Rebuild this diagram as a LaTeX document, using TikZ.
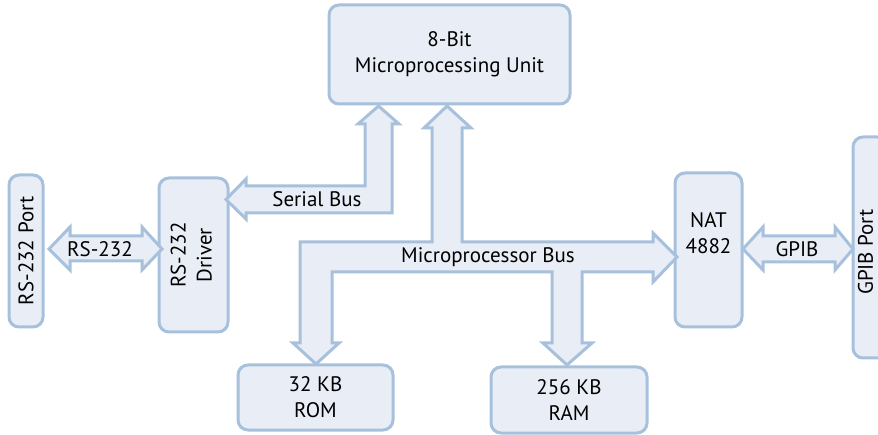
\documentclass[tikz,border=0pt]{standalone}
\usepackage{fontspec}
\setmainfont{PT Sans}
\definecolor{bstroke}{RGB}{167,193,221}
\definecolor{bfill}{RGB}{233,237,246}
\begin{document}
\begin{tikzpicture}[x=1pt,y=-1pt,
  blk/.style={draw=bstroke,fill=bfill,line width=3pt,rounded corners=10pt,inner sep=0pt,
    font=\fontsize{21}{26}\selectfont,align=center},
  bus/.style={draw=bstroke,fill=bfill,line width=3pt,line join=miter},
  lbl/.style={font=\fontsize{21}{26}\selectfont,text=black,inner sep=0pt,align=center}]
\useasboundingbox (0,0) rectangle (878,435);
\clip (0,0) rectangle (878,435);
% boxes
\node[blk,minimum width=241pt,minimum height=99pt] (mpu) at (449.5,54.5) {8-Bit\\Microprocessing Unit};
\node[blk,minimum width=34pt,minimum height=152pt] (port) at (26,251) {\rotatebox{90}{RS-232 Port}};
\node[blk,minimum width=69pt,minimum height=154pt] (drv) at (193.5,255)
  {\rotatebox{90}{\begin{tabular}{@{}c@{}}RS-232\\Driver\end{tabular}}};
\node[blk,minimum width=67pt,minimum height=154pt] (nat) at (708.5,250) {};
\node[lbl] (natl) at (708.5,233) {NAT\\4882};
\node[blk,minimum width=34pt,minimum height=221pt] (gport) at (870,247.5) {};
\node[lbl] (gportl) at (865.5,252) {\rotatebox{90}{GPIB Port}};
\node[blk,minimum width=155pt,minimum height=65pt] (rom) at (315.5,397.5) {32 KB\\ROM};
\node[blk,minimum width=156pt,minimum height=66pt] (ram) at (569,400) {256 KB\\RAM};
% serial bus
\draw[bus] (378.5,106) -- (399,124) -- (392,124) -- (392,213) -- (246,213) -- (246,219)
  -- (226,199.5) -- (246,179) -- (246,186) -- (365,186) -- (365,124) -- (358,124) -- cycle;
\node[lbl] (sbl) at (317,199) {Serial Bus};
% microprocessor bus
\draw[bus] (447,106) -- (471,128) -- (462,128) -- (462,242) -- (653,242) -- (653,233)
  -- (677,257) -- (653,282) -- (653,272) -- (582,272) -- (582,343) -- (592,343)
  -- (567,365) -- (543,343) -- (552,343) -- (552,272) -- (332,272) -- (332,343)
  -- (339,343) -- (316,364) -- (293,343) -- (300,343) -- (300,242) -- (432,242)
  -- (432,128) -- (424,128) -- cycle;
\node[lbl] (mbl) at (488,257) {Microprocessor Bus};
% RS-232 link
\draw[bus] (49,249) -- (70,227) -- (70,236) -- (142,236) -- (142,227) -- (162,249)
  -- (142,270) -- (142,261) -- (70,261) -- (70,270) -- cycle;
\node[lbl] (rsl) at (100,249) {RS-232};
% GPIB link
\draw[bus] (743,249) -- (763,227) -- (763,236) -- (835,236) -- (835,227) -- (853,249)
  -- (835,270) -- (835,262) -- (763,262) -- (763,270) -- cycle;
\node[lbl] (gpl) at (797,249) {GPIB};
\end{tikzpicture}
\end{document}
